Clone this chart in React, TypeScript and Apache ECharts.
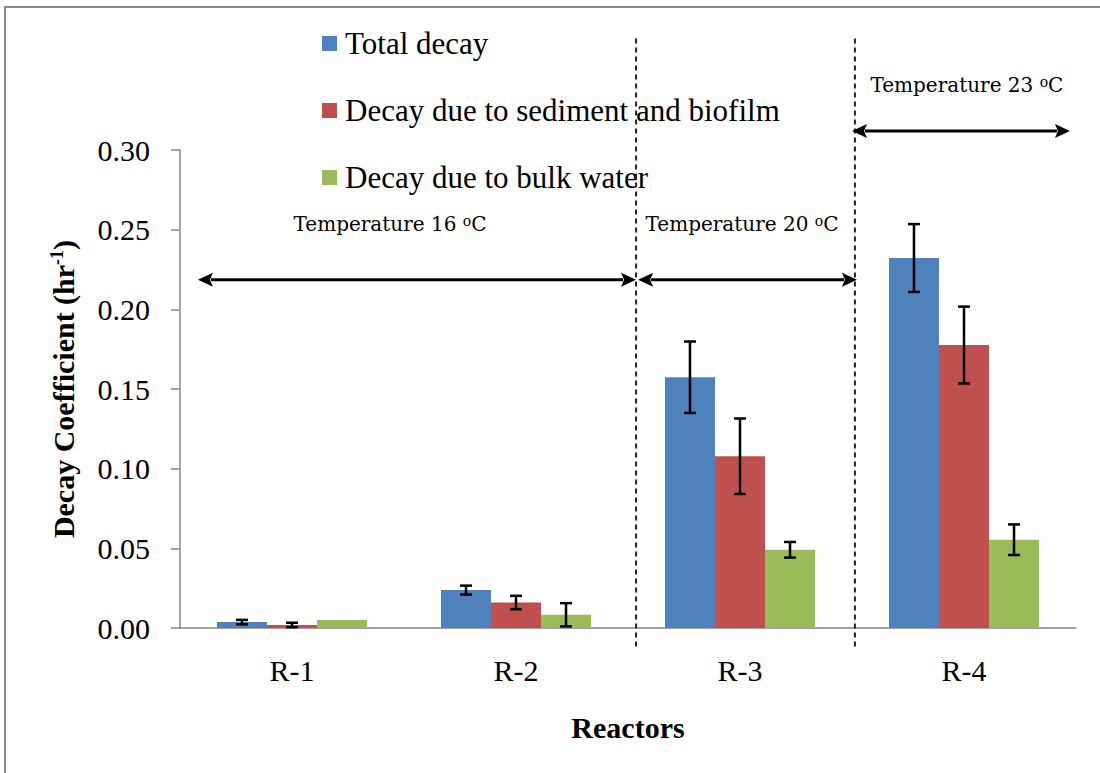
import React, { useEffect, useRef } from "react";
import * as echarts from "echarts";

const categories = ["R-1", "R-2", "R-3", "R-4"];
const seriesNames = ["Total decay", "Decay due to sediment and biofilm", "Decay due to bulk water"];
const totalDecay = [0.0037, 0.0238, 0.1574, 0.2322];
const sedimentDecay = [0.0019, 0.016, 0.1078, 0.1776];
const bulkDecay = [0.005, 0.0083, 0.0491, 0.0554];
const totalErr = [0.0014, 0.0028, 0.0224, 0.0213];
const sedimentErr = [0.0014, 0.0042, 0.0237, 0.0241];
const bulkErr = [0, 0.0073, 0.0049, 0.0096];
const colors = ["#4F81BD", "#C0504D", "#9BBB59"];

// annotation positions in axis units (x: 0..4 across categories, y: decay value)
const dividerX = [2.036, 3.013];
const dividerY = [0.37, -0.0126];
const arrows = [
  { x0: 0.08, x1: 2.036, y: 0.2185 },
  { x0: 2.045, x1: 3.022, y: 0.2185 },
  { x0: 3.0, x1: 3.973, y: 0.312 },
];
const tempLabels = [
  { t: "16", x: 0.9375, y: 0.2536 },
  { t: "20", x: 2.509, y: 0.2536 },
  { t: "23", x: 3.513, y: 0.341 },
];

const SERIF = "'Liberation Serif', 'Times New Roman', serif";
const BAR_GAP_FRAC = 0.33;

export default function App() {
  const ref = useRef<HTMLDivElement>(null);
  useEffect(() => {
    const chart = echarts.init(ref.current!, undefined, { renderer: "svg" });
    const values = [totalDecay, sedimentDecay, bulkDecay];
    const errs = [totalErr, sedimentErr, bulkErr];

    const barSeries = values.map((v, i) => ({
      name: seriesNames[i],
      type: "bar",
      data: v,
      barGap: "0%",
      barCategoryGap: BAR_GAP_FRAC * 100 + "%",
      itemStyle: { color: colors[i] },
      z: 2,
    }));

    const errSeries = values.map((v, i) => ({
      name: "err" + i,
      type: "custom",
      z: 5,
      data: v.map((val, k) => [k, val, errs[i][k]]),
      renderItem: (params: any, api: any) => {
        const cat = api.value(0);
        const val = api.value(1);
        const e = api.value(2);
        if (!e) return null;
        const top = api.coord([cat, val + e]);
        const bot = api.coord([cat, val - e]);
        const band = api.size([1, 0])[0];
        const bw = (band * (1 - BAR_GAP_FRAC)) / 3;
        const x = top[0] + (i - 1) * bw;
        const cap = 6;
        const st = { stroke: "#000", lineWidth: 2.5 };
        return {
          type: "group",
          children: [
            { type: "line", shape: { x1: x, y1: top[1], x2: x, y2: bot[1] }, style: st },
            { type: "line", shape: { x1: x - cap, y1: top[1], x2: x + cap, y2: top[1] }, style: st },
            { type: "line", shape: { x1: x - cap, y1: bot[1], x2: x + cap, y2: bot[1] }, style: st },
          ],
        };
      },
    }));

    chart.setOption({
      animation: false,
      backgroundColor: "#fff",
      grid: { left: 180, right: 24, top: 150, bottom: 145 },
      legend: {
        data: seriesNames,
        orient: "vertical",
        left: 317,
        top: 23,
        itemWidth: 15,
        itemHeight: 15,
        itemGap: 36,
        icon: "rect",
        textStyle: { fontFamily: SERIF, fontSize: 31, color: "#000", padding: [0, 0, 0, 3] },
      },
      xAxis: [
        {
          type: "category",
          data: categories,
          name: "Reactors",
          nameLocation: "middle",
          nameGap: 84,
          nameTextStyle: { fontFamily: SERIF, fontSize: 30, fontWeight: "bold", color: "#000" },
          axisLine: { lineStyle: { color: "#868686", width: 1.5 } },
          axisTick: { length: 8, lineStyle: { color: "#868686", width: 1.5 } },
          axisLabel: { fontFamily: SERIF, fontSize: 30, color: "#000", margin: 27 },
        },
        { type: "value", min: 0, max: 4, show: false },
      ],
      yAxis: {
        type: "value",
        min: 0,
        max: 0.3,
        interval: 0.05,
        name: "Decay Coefficient (hr{sup|-1})",
        nameLocation: "middle",
        nameGap: 102,
        nameRotate: 90,
        nameTextStyle: {
          fontFamily: SERIF,
          fontSize: 30,
          fontWeight: "bold",
          color: "#000",
          rich: {
            sup: { fontFamily: SERIF, fontSize: 18, fontWeight: "bold", color: "#000", verticalAlign: "top" },
          },
        },
        splitLine: { show: false },
        axisLine: { show: true, lineStyle: { color: "#868686", width: 1.5 } },
        axisTick: { show: true, length: 9, lineStyle: { color: "#868686", width: 1.5 } },
        axisLabel: {
          fontFamily: SERIF,
          fontSize: 30,
          color: "#000",
          margin: 30,
          formatter: (v: number) => v.toFixed(2),
        },
      },
      series: [...barSeries, ...errSeries],
    });

    const px = (x: number, y: number) => [
      chart.convertToPixel({ xAxisIndex: 1 }, x) as number,
      chart.convertToPixel({ yAxisIndex: 0 }, y) as number,
    ];

    const graphics: any[] = [
      {
        type: "rect",
        shape: { x: 5, y: 7, width: 1300, height: 1000 },
        style: { fill: "none", stroke: "#8a8a8a", lineWidth: 2 },
        z: 0,
        silent: true,
      },
    ];
    dividerX.forEach((dx) => {
      const a = px(dx, dividerY[0]);
      const b = px(dx, dividerY[1]);
      graphics.push({
        type: "line",
        shape: { x1: a[0], y1: a[1], x2: b[0], y2: b[1] },
        style: { stroke: "#222", lineWidth: 2, lineDash: [5, 4] },
        z: 10,
      });
    });
    const head = 15;
    const hw = 7;
    arrows.forEach((ar) => {
      const a = px(ar.x0, ar.y);
      const b = px(ar.x1, ar.y);
      graphics.push({
        type: "line",
        shape: { x1: a[0] + head - 2, y1: a[1], x2: b[0] - head + 2, y2: b[1] },
        style: { stroke: "#000", lineWidth: 3 },
        z: 10,
      });
      graphics.push({
        type: "polygon",
        shape: { points: [[a[0], a[1]], [a[0] + head, a[1] - hw], [a[0] + head - 3, a[1]], [a[0] + head, a[1] + hw]] },
        style: { fill: "#000" },
        z: 10,
      });
      graphics.push({
        type: "polygon",
        shape: { points: [[b[0], b[1]], [b[0] - head, b[1] - hw], [b[0] - head + 3, b[1]], [b[0] - head, b[1] + hw]] },
        style: { fill: "#000" },
        z: 10,
      });
    });
    tempLabels.forEach((tl) => {
      const p = px(tl.x, tl.y);
      graphics.push({
        type: "text",
        x: p[0],
        y: p[1],
        style: {
          text: "Temperature " + tl.t + " {sup|o}C",
          fontFamily: "'DejaVu Serif', serif",
          fontSize: 20,
          fill: "#000",
          align: "center",
          verticalAlign: "middle",
          rich: {
            sup: {
              fontFamily: "'DejaVu Serif', serif",
              fontSize: 14,
              lineHeight: 14,
              fill: "#000",
              verticalAlign: "top",
              padding: [0, 0, 14, 0],
            },
          },
        },
        z: 10,
      });
    });
    chart.setOption({ graphic: graphics });

    return () => chart.dispose();
  }, []);

  return (
    <div
      ref={ref}
      style={{ position: "absolute", left: 0, top: 0, width: 1100, height: 773 }}
    />
  );
}
